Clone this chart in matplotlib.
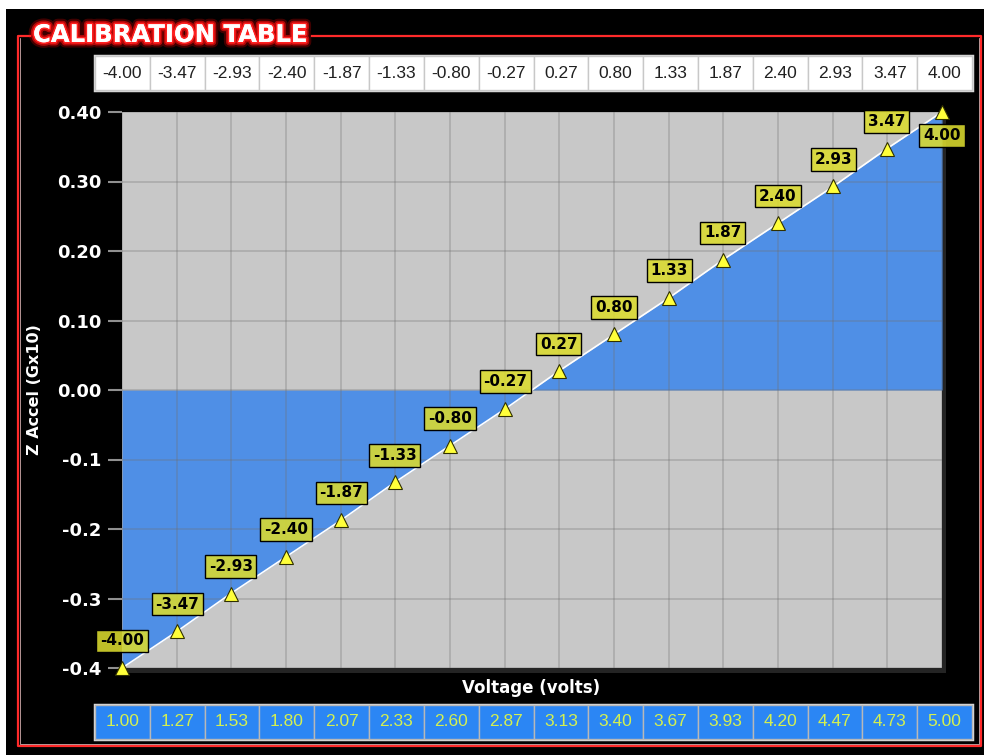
import numpy as np
import matplotlib.pyplot as plt
from matplotlib.patches import Rectangle
from matplotlib.lines import Line2D
import matplotlib.patheffects as pe

# valeurs
volts = [1.00, 1.27, 1.53, 1.80, 2.07, 2.33, 2.60, 2.87, 3.13, 3.40, 3.67, 3.93, 4.20, 4.47, 4.73, 5.00]
accel = [-4.00, -3.47, -2.93, -2.40, -1.87, -1.33, -0.80, -0.27, 0.27, 0.80, 1.33, 1.87, 2.40, 2.93, 3.47, 4.00]
volt_labels = ["1.00", "1.27", "1.53", "1.80", "2.07", "2.33", "2.60", "2.87", "3.13", "3.40", "3.67", "3.93", "4.20", "4.47", "4.73", "5.00"]
accel_labels = ["-4.00", "-3.47", "-2.93", "-2.40", "-1.87", "-1.33", "-0.80", "-0.27", "0.27", "0.80", "1.33", "1.87", "2.40", "2.93", "3.47", "4.00"]
yticks = [0.40, 0.30, 0.20, 0.10, 0.00, -0.1, -0.2, -0.3, -0.4]
ytick_labels = ["0.40", "0.30", "0.20", "0.10", "0.00", "-0.1", "-0.2", "-0.3", "-0.4"]

W, H = 984, 755
def fx(px):
    return px / W
def fy(py):
    return 1 - py / H

x = np.array(volts)
y = np.array(accel) / 10.0

fig = plt.figure(figsize=(9.84, 7.55), dpi=100, facecolor="white")

# fond noir
fig.patches.append(Rectangle((fx(6), 0), 1 - fx(6), fy(9), transform=fig.transFigure,
                             facecolor="black", edgecolor="none", zorder=-3))

# cadre rouge avec trou pour le titre
red = "#ff2a2a"
pts = [(30, 36), (18, 36), (18, 746), (981, 746), (981, 36), (312, 36)]
fig.lines.append(Line2D([fx(p[0]) for p in pts], [fy(p[1]) for p in pts],
                        transform=fig.transFigure, color=red, lw=1.6, zorder=-2))
pts2 = [(20, 38), (20, 744), (979, 744), (979, 38)]
fig.lines.append(Line2D([fx(p[0]) for p in pts2], [fy(p[1]) for p in pts2],
                        transform=fig.transFigure, color="#ffd0d0", lw=0.5, zorder=-2))

fig.text(fx(33), fy(35), "CALIBRATION TABLE", color="white", fontsize=17.5, fontweight="bold",
         ha="left", va="center",
         path_effects=[pe.withStroke(linewidth=8, foreground=(1, 0, 0, 0.25)),
                       pe.withStroke(linewidth=5, foreground=(1, 0.05, 0.05, 0.6)),
                       pe.withStroke(linewidth=2.5, foreground="#ff2020"),
                       pe.Normal()])

# ombre du graphe
fig.patches.append(Rectangle((fx(126), fy(673)), fx(820), 556 / H, transform=fig.transFigure,
                             facecolor="#242424", edgecolor="none", zorder=-1))

ax = fig.add_axes([fx(122), fy(668), fx(820), 556 / H])
ax.set_facecolor("#c8c8c8")
ax.set_xlim(1.0, 5.0)
ax.set_ylim(-0.4, 0.4)
ax.fill_between(x, y, 0, color="#4f8fe6", lw=0, zorder=1)
ax.set_xticks(x)
ax.set_yticks(yticks)
ax.set_yticklabels(ytick_labels)
ax.grid(True, color="#707070", alpha=0.3, lw=1.3, zorder=2)
ax.set_axisbelow(False)
for s in ax.spines.values():
    s.set_visible(False)
ax.tick_params(axis="x", length=0, labelbottom=False)
ax.tick_params(axis="y", length=10, width=1.5, color="#909090", pad=5,
               labelcolor="white", labelsize=13)
for lab in ax.get_yticklabels():
    lab.set_fontweight("bold")

ax.plot(x, y, color="white", lw=1.2, zorder=3)
ax.plot(x, y, ls="none", marker="^", ms=10, mfc="#ffff3a", mec="#303000", mew=0.8,
        zorder=5, clip_on=False)

for i in range(len(x)):
    off = (0, 19.5) if i < len(x) - 1 else (0, -17)
    ax.annotate(accel_labels[i], (x[i], y[i]), xytext=off, textcoords="offset points",
                ha="center", va="center", fontsize=11, fontweight="bold", color="black",
                annotation_clip=False, zorder=6,
                bbox=dict(boxstyle="square,pad=0.25", facecolor=(0.86, 0.86, 0.18, 0.88),
                          edgecolor="black", lw=1))

fig.text(fx(35), fy(390), "Z Accel (Gx10)", rotation=90, color="white", fontsize=11.5,
         fontweight="bold", ha="center", va="center")
fig.text(fx(531), fy(688), "Voltage (volts)", color="white", fontsize=12,
         fontweight="bold", ha="center", va="center")

# tableaux du haut et du bas
def table(ypx, labels, face, edge, txtcolor):
    t = fig.add_axes([fx(95), fy(ypx + 34), fx(877), 34 / H])
    t.set_xlim(0, len(labels))
    t.set_ylim(0, 1)
    t.axis("off")
    t.add_patch(Rectangle((0, 0), len(labels), 1, facecolor=face, edgecolor="#d8d8d8",
                          lw=2.5, clip_on=False))
    for i, lab in enumerate(labels):
        t.add_patch(Rectangle((i, 0), 1, 1, facecolor=face, edgecolor=edge, lw=1, clip_on=False))
        t.text(i + 0.5, 0.5, lab, ha="center", va="center", color=txtcolor, fontsize=12.5,
               family="Liberation Sans")
    return t

table(56, accel_labels, "white", "#c8c8c8", "#202020")
table(705, volt_labels, "#2b86f4", "#b8b8b8", "#d4f050")

fig.savefig("out.png", dpi=100, facecolor=fig.get_facecolor())
